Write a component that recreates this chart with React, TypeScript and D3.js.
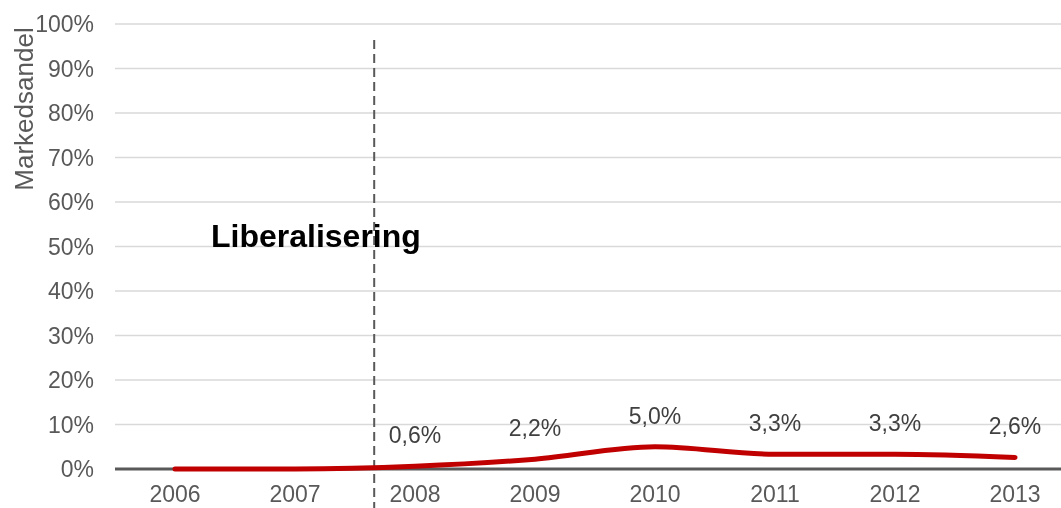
import { useEffect, useRef } from "react";
import * as d3 from "d3";

const years = [2006, 2007, 2008, 2009, 2010, 2011, 2012, 2013];
const share = [0, 0, 0.6, 2.2, 5.0, 3.3, 3.3, 2.6];
const shareLabels = ["", "", "0,6%", "2,2%", "5,0%", "3,3%", "3,3%", "2,6%"];
const yTicks = [0, 10, 20, 30, 40, 50, 60, 70, 80, 90, 100];
const liberalisationYear = 2007.66;

const FONT = "'Liberation Sans', Arial, sans-serif";
const GREY = "#595959";

export default function App() {
  const svgRef = useRef<SVGSVGElement | null>(null);

  useEffect(() => {
    const svg = d3.select(svgRef.current);
    svg.selectAll("*").remove();

    const W = 1061;
    const H = 508;
    const left = 115;

    const x = d3.scaleLinear().domain([2006, 2013]).range([175, 1015]);
    const y = d3.scaleLinear().domain([0, 100]).range([469, 24]);

    svg.attr("viewBox", `0 0 ${W} ${H}`).attr("font-family", FONT);

    // gridlines
    svg
      .append("g")
      .selectAll("line")
      .data(yTicks.filter((t) => t > 0))
      .join("line")
      .attr("x1", left)
      .attr("x2", W)
      .attr("y1", (d) => y(d))
      .attr("y2", (d) => y(d))
      .attr("stroke", "#d9d9d9")
      .attr("stroke-width", 1.5);

    // y tick labels
    svg
      .append("g")
      .selectAll("text")
      .data(yTicks)
      .join("text")
      .attr("x", 94)
      .attr("y", (d) => y(d) + 8)
      .attr("text-anchor", "end")
      .attr("font-size", 23)
      .attr("fill", GREY)
      .text((d) => `${d}%`);

    // y axis title
    svg
      .append("text")
      .attr("transform", `translate(33,109) rotate(-90)`)
      .attr("text-anchor", "middle")
      .attr("font-size", 26)
      .attr("fill", GREY)
      .text("Markedsandel");

    // x labels
    svg
      .append("g")
      .selectAll("text")
      .data(years)
      .join("text")
      .attr("x", (d) => x(d))
      .attr("y", 502)
      .attr("text-anchor", "middle")
      .attr("font-size", 23)
      .attr("fill", GREY)
      .text((d) => String(d));

    // baseline
    svg
      .append("line")
      .attr("x1", left)
      .attr("x2", W)
      .attr("y1", y(0))
      .attr("y2", y(0))
      .attr("stroke", GREY)
      .attr("stroke-width", 3);

    // liberalisation marker
    svg
      .append("line")
      .attr("x1", x(liberalisationYear))
      .attr("x2", x(liberalisationYear))
      .attr("y1", 40)
      .attr("y2", H)
      .attr("stroke", GREY)
      .attr("stroke-width", 2)
      .attr("stroke-dasharray", "9 5");

    svg
      .append("text")
      .attr("x", 211)
      .attr("y", 247)
      .attr("font-size", 32)
      .attr("font-weight", "bold")
      .attr("fill", "#000")
      .text("Liberalisering");

    // series
    const line = d3
      .line<number>()
      .x((_, i) => x(years[i]))
      .y((d) => y(d))
      .curve(d3.curveMonotoneX);

    svg
      .append("path")
      .datum(share)
      .attr("d", line)
      .attr("fill", "none")
      .attr("stroke", "#c00000")
      .attr("stroke-width", 5)
      .attr("stroke-linecap", "round")
      .attr("stroke-linejoin", "round");

    // data labels
    svg
      .append("g")
      .selectAll("text")
      .data(share.map((v, i) => ({ v, year: years[i], label: shareLabels[i] })).filter((d) => d.label))
      .join("text")
      .attr("x", (d) => x(d.year))
      .attr("y", (d) => y(d.v) - 23)
      .attr("text-anchor", "middle")
      .attr("font-size", 23)
      .attr("fill", "#404040")
      .text((d) => d.label);
  }, []);

  return (
    <div style={{ position: "fixed", left: 0, top: 0 }}>
      <svg ref={svgRef} width={1061} height={508} style={{ display: "block" }} />
    </div>
  );
}
